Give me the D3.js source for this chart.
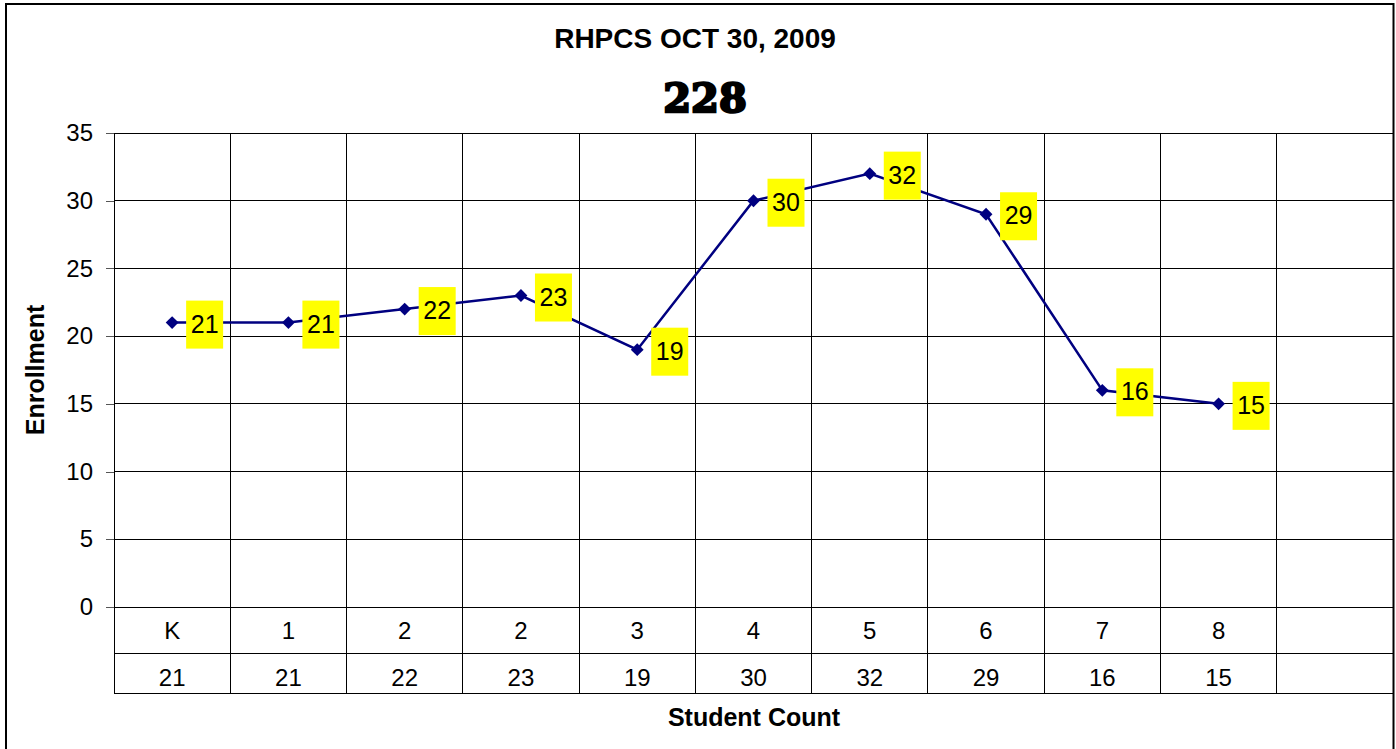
<!DOCTYPE html>
<html>
<head>
<meta charset="utf-8">
<script src="https://cdn.jsdelivr.net/npm/d3@7"></script>
<style>
    body { margin: 0; background: #fff; }
    text { font-family: Arial, "Liberation Sans", sans-serif; }
</style>
</head>
<body>
<svg id="canvas" width="1396" height="749"></svg>
<script>
let grades = ['K', '1', '2', '2', '3', '4', '5', '6', '7', '8']
let enrollment = [21, 21, 22, 23, 19, 30, 32, 29, 16, 15]
let yTicks = [0, 5, 10, 15, 20, 25, 30, 35]

let chartTitle = 'RHPCS OCT 30, 2009'
let yTitle = 'Enrollment'
let xTitle = 'Student Count'

let canvas = d3.select('#canvas')

let plotLeft = 114
let plotRight = 1393
let plotTop = 133
let plotBottom = 607
let rowOne = 653
let rowTwo = 693

// one extra empty slot on the right like the original sheet
let xScale = d3.scaleBand()
    .domain(d3.range(grades.length + 1))
    .range([plotLeft, plotRight])
    .paddingInner(0)
    .paddingOuter(0)

let yScale = d3.scaleLinear()
    .domain([0, 35])
    .range([plotBottom, plotTop])

let cx = (i) => xScale(i) + xScale.bandwidth() / 2

let drawFrame = () => {
    canvas.append('rect')
        .attr('x', 6)
        .attr('y', 4)
        .attr('width', 1387.5)
        .attr('height', 760)
        .attr('fill', 'none')
        .attr('stroke', '#000')
        .attr('stroke-width', 2)

    canvas.append('text')
        .attr('x', 695)
        .attr('y', 48)
        .attr('text-anchor', 'middle')
        .attr('font-size', 28)
        .attr('font-weight', 'bold')
        .text(chartTitle)

    canvas.append('text')
        .attr('x', 705)
        .attr('y', 112)
        .attr('text-anchor', 'middle')
        .style('font-family', '"DejaVu Serif", serif')
        .attr('font-size', 40)
        .attr('font-weight', 'bold')
        .attr('stroke', '#000')
        .attr('stroke-width', 2.4)
        .text(d3.sum(enrollment))
}

let drawGrid = () => {
    let grid = canvas.append('g').attr('shape-rendering', 'crispEdges')

    grid.selectAll('.hgrid')
        .data(yTicks)
        .enter()
        .append('line')
        .attr('class', 'hgrid')
        .attr('x1', plotLeft)
        .attr('x2', plotRight)
        .attr('y1', d => yScale(d))
        .attr('y2', d => yScale(d))
        .attr('stroke', '#000')

    // vertical lines run through the plot and the data table
    grid.selectAll('.vgrid')
        .data(d3.range(grades.length + 2))
        .enter()
        .append('line')
        .attr('class', 'vgrid')
        .attr('x1', i => i <= grades.length ? xScale(i) : plotRight)
        .attr('x2', i => i <= grades.length ? xScale(i) : plotRight)
        .attr('y1', plotTop)
        .attr('y2', rowTwo)
        .attr('stroke', '#000')

    grid.selectAll('.trow')
        .data([rowOne, rowTwo])
        .enter()
        .append('line')
        .attr('class', 'trow')
        .attr('x1', plotLeft)
        .attr('x2', plotRight)
        .attr('y1', d => d)
        .attr('y2', d => d)
        .attr('stroke', '#000')

    let yAxis = d3.axisLeft(yScale)
        .tickValues(yTicks)
        .tickSize(8)
        .tickPadding(13)

    let axisG = canvas.append('g')
        .attr('transform', `translate(${plotLeft},0)`)
        .call(yAxis)
    axisG.select('.domain').remove()
    axisG.selectAll('line').attr('stroke', '#555').attr('shape-rendering', 'crispEdges')
    axisG.selectAll('text')
        .attr('font-size', 24)
        .attr('fill', '#000')
        .style('font-family', 'Arial, "Liberation Sans", sans-serif')
}

let drawTable = () => {
    canvas.selectAll('.grade')
        .data(grades)
        .enter()
        .append('text')
        .attr('class', 'grade')
        .attr('x', (d, i) => cx(i))
        .attr('y', 639)
        .attr('text-anchor', 'middle')
        .attr('font-size', 24)
        .text(d => d)

    canvas.selectAll('.count')
        .data(enrollment)
        .enter()
        .append('text')
        .attr('class', 'count')
        .attr('x', (d, i) => cx(i))
        .attr('y', 686)
        .attr('text-anchor', 'middle')
        .attr('font-size', 24)
        .text(d => d)

    canvas.append('text')
        .attr('x', 754)
        .attr('y', 726)
        .attr('text-anchor', 'middle')
        .attr('font-size', 25)
        .attr('font-weight', 'bold')
        .text(xTitle)

    canvas.append('text')
        .attr('transform', `translate(44,370) rotate(-90)`)
        .attr('text-anchor', 'middle')
        .attr('font-size', 25)
        .attr('font-weight', 'bold')
        .text(yTitle)
}

let drawLine = () => {
    let line = d3.line()
        .x((d, i) => cx(i))
        .y(d => yScale(d))

    canvas.append('path')
        .datum(enrollment)
        .attr('d', line)
        .attr('fill', 'none')
        .attr('stroke', '#000080')
        .attr('stroke-width', 2.5)

    canvas.selectAll('.marker')
        .data(enrollment)
        .enter()
        .append('path')
        .attr('class', 'marker')
        .attr('d', d3.symbol().type(d3.symbolDiamond2).size(105))
        .attr('transform', (d, i) => `translate(${cx(i)},${yScale(d)})`)
        .attr('fill', '#000080')

    let labels = canvas.selectAll('.label')
        .data(enrollment)
        .enter()
        .append('g')
        .attr('class', 'label')
        .attr('transform', (d, i) => `translate(${cx(i)},${yScale(d)})`)

    labels.append('rect')
        .attr('x', 14)
        .attr('y', -22)
        .attr('width', 37)
        .attr('height', 48)
        .attr('fill', '#ffff00')

    labels.append('text')
        .attr('x', 32.5)
        .attr('y', 10)
        .attr('text-anchor', 'middle')
        .attr('font-size', 25)
        .text(d => d)
}

drawFrame()
drawGrid()
drawTable()
drawLine()
</script>
</body>
</html>
